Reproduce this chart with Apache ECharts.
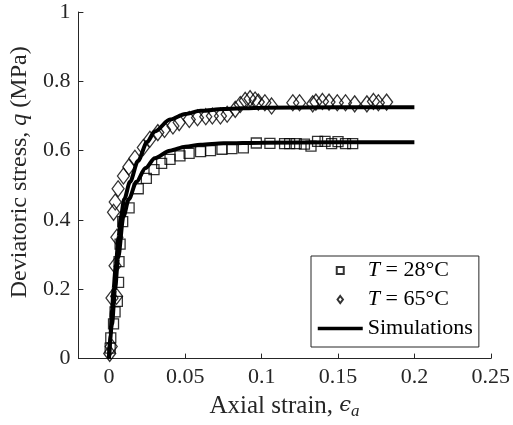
<!DOCTYPE html>
<html>
<head>
<meta charset="utf-8">
<script src="https://cdn.jsdelivr.net/npm/echarts@6/dist/echarts.min.js"></script>
<style>html,body{margin:0;padding:0;background:#fff;}#c{width:513px;height:425px;}</style>
</head>
<body>
<div id="c"></div>
<script>
// Experimental data, T = 28 °C (squares)
const strain28 = [0.0008,0.0012,0.003,0.004,0.0055,0.0063,0.0066,0.0073,0.009,0.0132,0.0192,0.0245,0.0295,0.0345,0.040,0.0465,0.0525,0.060,0.0665,0.074,0.0805,0.088,0.0965,0.1054,0.1150,0.1183,0.1226,0.128,0.1323,0.1366,0.1415,0.1458,0.150,0.1549,0.1596];
const stress28 = [0.03,0.06,0.10,0.135,0.165,0.22,0.28,0.33,0.395,0.435,0.49,0.52,0.545,0.563,0.575,0.585,0.592,0.597,0.600,0.604,0.606,0.608,0.622,0.621,0.620,0.620,0.620,0.619,0.613,0.627,0.627,0.620,0.626,0.620,0.620];
// Experimental data, T = 65 °C (diamonds)
const strain65 = [0.0005,0.0015,0.002,0.005,0.004,0.0052,0.003,0.0041,0.006,0.0095,0.013,0.017,0.0225,0.0268,0.032,0.0364,0.0419,0.046,0.0526,0.058,0.0634,0.0677,0.073,0.0774,0.0827,0.086,0.0892,0.0924,0.0957,0.0978,0.1021,0.1065,0.1204,0.1248,0.1334,0.1355,0.1398,0.1441,0.1495,0.1549,0.1609,0.1689,0.1732,0.1764,0.1818];
const stress65 = [0.015,0.035,0.175,0.18,0.268,0.35,0.422,0.452,0.49,0.527,0.553,0.578,0.609,0.633,0.652,0.661,0.671,0.681,0.690,0.695,0.698,0.700,0.700,0.705,0.719,0.733,0.745,0.750,0.746,0.740,0.738,0.729,0.738,0.738,0.735,0.740,0.742,0.740,0.738,0.738,0.735,0.735,0.742,0.738,0.740];
// Simulation curves
const simStrain28 = [0,0.002,0.004,0.006,0.0095,0.013,0.018,0.024,0.03,0.04,0.05,0.06,0.075,0.1,0.15,0.2];
const simStress28 = [0,0.10,0.20,0.29,0.41,0.46,0.51,0.55,0.578,0.600,0.611,0.617,0.621,0.623,0.624,0.624];
const simStrain65 = [0,0.001,0.002,0.003,0.0045,0.0063,0.0078,0.01,0.0138,0.019,0.025,0.03,0.04,0.05,0.06,0.075,0.1,0.15,0.2];
const simStress65 = [0,0.07,0.14,0.20,0.27,0.35,0.41,0.46,0.51,0.57,0.625,0.655,0.69,0.706,0.715,0.72,0.724,0.725,0.725];
// Axis ticks
const xTicks = [0,0.05,0.1,0.15,0.2,0.25];

const pairs = (xs, ys) => xs.map((x, i) => [x, ys[i]]);
const FONT = "'Liberation Serif', 'Times New Roman', serif";
const TXT = '#262626';

const chart = echarts.init(document.getElementById('c'), null, {renderer: 'canvas'});
const markerStyle = {color: 'rgba(0,0,0,0)', borderColor: '#000', borderWidth: 1.3};

chart.setOption({
  animation: false,
  backgroundColor: '#fff',
  textStyle: {fontFamily: FONT, color: TXT},
  grid: {left: 77, right: 19, top: 12, bottom: 65},
  xAxis: {
    type: 'value', min: -0.02, max: 0.25,
    name: 'Axial strain, {i|\u03F5}{s|a}', nameLocation: 'middle', nameGap: 32,
    nameTextStyle: {fontFamily: FONT, fontSize: 25, color: TXT,
      rich: {i: {fontFamily: 'DejaVu Serif', fontStyle: 'italic', fontSize: 21, color: TXT},
             s: {fontFamily: FONT, fontStyle: 'italic', fontSize: 17, color: TXT, padding: [11, 0, 0, 0]}}},
    axisLine: {onZero: false, lineStyle: {color: TXT, width: 1}},
    axisTick: {inside: true, length: 5, customValues: xTicks, lineStyle: {color: TXT}},
    axisLabel: {customValues: xTicks, fontFamily: FONT, fontSize: 22, color: TXT, margin: 8},
    splitLine: {show: false}
  },
  yAxis: {
    type: 'value', min: 0, max: 1, interval: 0.2,
    name: 'Deviatoric stress, {i|q} (MPa)', nameLocation: 'middle', nameGap: 44, nameRotate: 90,
    nameTextStyle: {fontFamily: FONT, fontSize: 24, color: TXT, padding: [0, 0, 0, 26],
      rich: {i: {fontFamily: FONT, fontStyle: 'italic', fontSize: 24, color: TXT}}},
    axisLine: {show: true, onZero: false, lineStyle: {color: TXT, width: 1}},
    axisTick: {show: true, inside: true, length: 5, lineStyle: {color: TXT}},
    axisLabel: {fontFamily: FONT, fontSize: 22, color: TXT, margin: 8},
    splitLine: {show: false}
  },
  legend: {
    left: 311, top: 256, orient: 'vertical',
    backgroundColor: '#fff', borderColor: TXT, borderWidth: 1,
    padding: [2, 6, 6, 5], itemGap: 4, itemWidth: 45, itemHeight: 7,
    data: [
      {name: 'T28', icon: 'path://M0,0L10,0L10,10L0,10Z'},
      {name: 'T65', icon: 'path://M5,0L10,6.5L5,13L0,6.5Z'},
      {name: 'Simulations', itemStyle: {opacity: 0}, lineStyle: {width: 3.5, color: '#000'}}
    ],
    formatter: n => n === 'T28' ? '{i|T} = 28\u00B0C' : (n === 'T65' ? '{i|T} = 65\u00B0C' : 'Simulations'),
    textStyle: {fontFamily: FONT, fontSize: 22, color: '#000', lineHeight: 25,
      rich: {i: {fontFamily: FONT, fontStyle: 'italic', fontSize: 22, color: '#000'}}}
  },
  series: [
    {name: 'T28', type: 'scatter', symbol: 'rect', symbolSize: 10,
     itemStyle: markerStyle, data: pairs(strain28, stress28), z: 2},
    {name: 'T65', type: 'scatter', symbol: 'diamond', symbolSize: [12, 16],
     itemStyle: markerStyle, data: pairs(strain65, stress65), z: 2},
    {name: 'Simulations', type: 'line', symbol: 'none', smooth: 0.3, smoothMonotone: 'x',
     lineStyle: {color: '#000', width: 4}, itemStyle: {color: '#000'},
     data: pairs(simStrain28, simStress28), z: 3},
    {name: 'Simulations', type: 'line', symbol: 'none', smooth: 0.3, smoothMonotone: 'x',
     lineStyle: {color: '#000', width: 4}, itemStyle: {color: '#000'},
     data: pairs(simStrain65, simStress65), z: 3}
  ]
});
</script>
</body>
</html>
